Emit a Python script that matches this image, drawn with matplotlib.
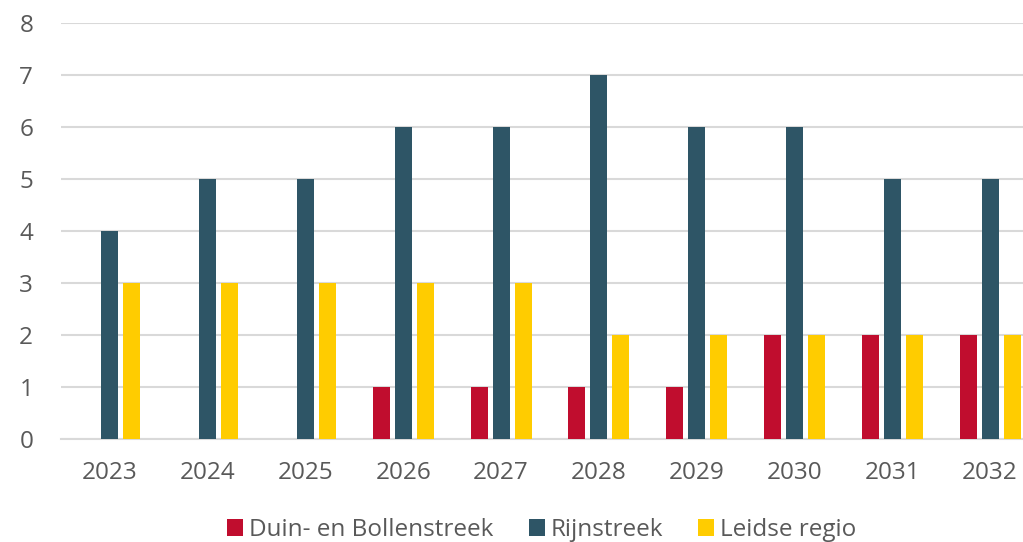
"""
Grouped bars per year for three regions
"""

import numpy as np
import matplotlib.pyplot as plt
from matplotlib.patches import Patch

years = ["2023", "2024", "2025", "2026", "2027", "2028", "2029", "2030", "2031", "2032"]
duin = [0, 0, 0, 1, 1, 1, 1, 2, 2, 2]
rijn = [4, 5, 5, 6, 6, 7, 6, 6, 5, 5]
leiden = [3, 3, 3, 3, 3, 2, 2, 2, 2, 2]

names = ["Duin- en Bollenstreek", "Rijnstreek", "Leidse regio"]
colors = ["#C00D2E", "#2E5566", "#FFCC00"]

plt.rcParams['font.family'] = ['Open Sans', 'DejaVu Sans']
txt = "#595959"
fs = 17.5

fig = plt.figure(figsize=(10.23, 5.42), dpi=100)
ax = fig.add_axes([61 / 1023, 103 / 542, 978 / 1023, 416 / 542])

x = np.arange(len(years))
w = 0.174
step = 0.225
for i, (vals, col) in enumerate(zip([duin, rijn, leiden], colors)):
    ax.bar(x + (i - 1) * step, vals, width=w, color=col, zorder=3)

ax.set_xlim(-0.5, len(years) - 0.5)
ax.set_ylim(0, 8)
ax.set_yticks(range(0, 9))
ax.set_xticks(x)
ax.set_xticklabels(years)
ax.grid(axis='y', color="#D9D9D9", linewidth=1.5, zorder=0)
ax.set_axisbelow(True)
for s in ["top", "right", "left"]:
    ax.spines[s].set_visible(False)
ax.spines["bottom"].set_color("#D9D9D9")
ax.spines["bottom"].set_linewidth(1.5)
ax.tick_params(axis='both', length=0, labelsize=fs, colors=txt)
ax.tick_params(axis='y', pad=20)
ax.tick_params(axis='x', pad=16)

handles = [Patch(facecolor=c, edgecolor='none') for c in colors]
fig.legend(handles, names, loc='center', bbox_to_anchor=(542 / 1023, 1 - 530 / 542),
           ncol=3, frameon=False, fontsize=fs, labelcolor=txt,
           handlelength=0.65, handleheight=0.65, handletextpad=0.25, columnspacing=1.45)

fig.savefig("out.png", dpi=100)
